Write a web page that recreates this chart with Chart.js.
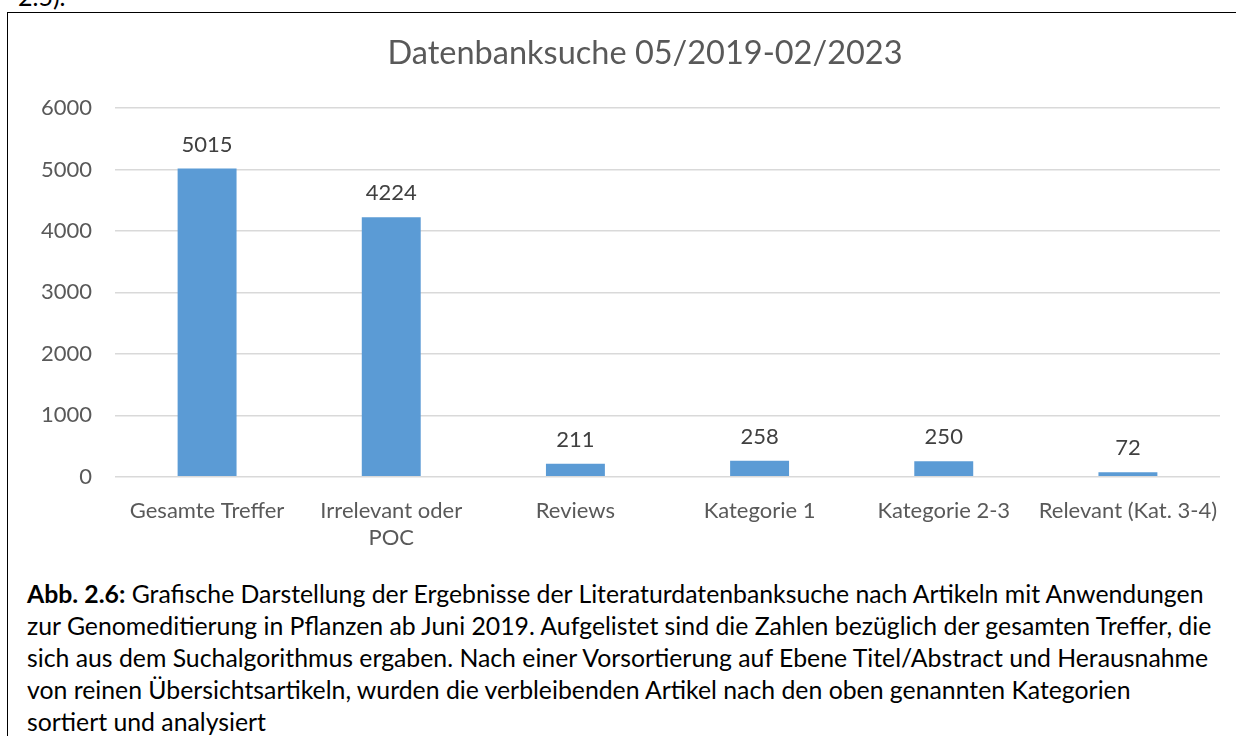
<!DOCTYPE html>
<html>
<head>
<meta charset="utf-8">
<script src="https://cdn.jsdelivr.net/npm/chart.js@4.4.0/dist/chart.umd.min.js"></script>
<style>
  html, body { margin: 0; padding: 0; background: #ffffff; width: 1236px; height: 736px; overflow: hidden; position: relative; font-family: Lato, "Open Sans", sans-serif; }
  #top { position: absolute; left: 18px; top: -20px; font-size: 25px; line-height: 32px; color: #000; white-space: nowrap; }
  #box { position: absolute; left: 7px; top: 12px; width: 1300px; height: 800px; border: 1.5px solid #000; box-sizing: border-box; }
  #wrap { position: absolute; left: 8px; top: 13px; width: 1274px; height: 555px; }
  #caption { position: absolute; left: 27px; top: 578px; font-size: 24.8px; line-height: 32px; color: #000; white-space: nowrap; }
</style>
</head>
<body>
<div id="top">2.5).</div>
<div id="box"></div>
<div id="wrap"><canvas id="c" width="1274" height="555"></canvas></div>
<div id="caption"><b>Abb. 2.6:</b> Grafische Darstellung der Ergebnisse der Literaturdatenbanksuche nach Artikeln mit Anwendungen<br>zur Genomeditierung in Pflanzen ab Juni 2019. Aufgelistet sind die Zahlen bezüglich der gesamten Treffer, die<br>sich aus dem Suchalgorithmus ergaben. Nach einer Vorsortierung auf Ebene Titel/Abstract und Herausnahme<br>von reinen Übersichtsartikeln, wurden die verbleibenden Artikel nach den oben genannten Kategorien<br>sortiert und analysiert</div>
<script>
const categories = ["Gesamte Treffer", ["Irrelevant oder", "POC"], "Reviews", "Kategorie 1", "Kategorie 2-3", "Relevant (Kat. 3-4)"];
const counts = [5015, 4224, 211, 258, 250, 72];
const yTickValues = [0, 1000, 2000, 3000, 4000, 5000, 6000];
const chartTitle = "Datenbanksuche 05/2019-02/2023";

const FONT = "Lato";

const valueLabels = {
  id: 'valueLabels',
  afterDatasetsDraw(chart) {
    const ctx = chart.ctx;
    const meta = chart.getDatasetMeta(0);
    ctx.save();
    ctx.font = "22px " + FONT;
    ctx.fillStyle = "#404040";
    ctx.textAlign = "center";
    ctx.textBaseline = "alphabetic";
    meta.data.forEach((bar, i) => {
      ctx.fillText(String(counts[i]), bar.x, bar.y - 17);
    });
    ctx.restore();
  }
};

new Chart(document.getElementById('c'), {
  type: 'bar',
  data: {
    labels: categories,
    datasets: [{
      data: counts,
      backgroundColor: '#5B9BD5',
      borderWidth: 0,
      categoryPercentage: 1,
      barPercentage: 0.32
    }]
  },
  options: {
    responsive: false,
    animation: false,
    layout: { padding: 0 },
    plugins: {
      legend: { display: false },
      tooltip: { enabled: false },
      title: {
        display: true,
        text: chartTitle,
        color: '#595959',
        font: { family: FONT, size: 32.5, weight: 'normal', lineHeight: 1.2 },
        padding: { top: 21, bottom: 35 }
      }
    },
    scales: {
      x: {
        grid: { display: false, drawTicks: false },
        border: { display: false },
        ticks: {
          color: '#595959',
          font: { family: FONT, size: 22, lineHeight: 1.23 },
          padding: 21,
          maxRotation: 0,
          autoSkip: false
        },
        afterFit(scale) { scale.height = 555 - 463.7; }
      },
      y: {
        min: 0,
        max: 6000,
        afterBuildTicks(scale) { scale.ticks = yTickValues.map(v => ({ value: v })); },
        grid: { color: '#D9D9D9', lineWidth: 1.5, drawTicks: false },
        border: { display: false },
        ticks: {
          color: '#595959',
          font: { family: FONT, size: 22 },
          padding: 23,
          callback: (v) => String(v)
        },
        afterFit(scale) { scale.width = 107; }
      },
      yRight: {
        position: 'right',
        min: 0,
        max: 6000,
        grid: { display: false, drawTicks: false },
        border: { display: false },
        ticks: { display: false },
        afterFit(scale) { scale.width = 62; }
      }
    }
  },
  plugins: [valueLabels]
});
</script>
</body>
</html>
